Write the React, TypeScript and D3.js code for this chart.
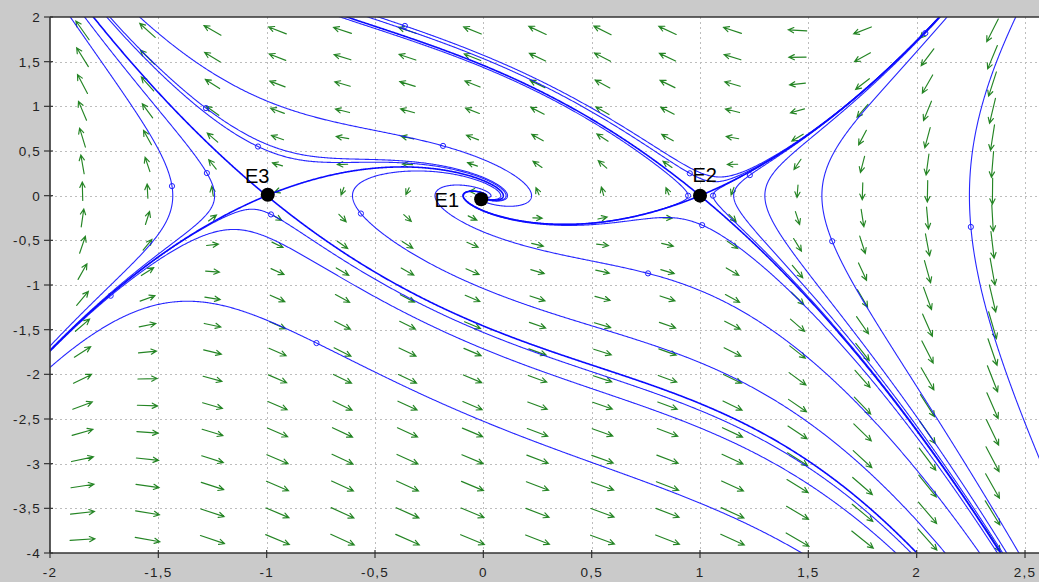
import React from "react";
import * as d3 from "d3";

// ---------- data ----------
const xTicks = [-2, -1.5, -1, -0.5, 0, 0.5, 1, 1.5, 2, 2.5];
const xTickLabels = ["-2", "-1,5", "-1", "-0,5", "0", "0,5", "1", "1,5", "2", "2,5"];
const yTicks = [2, 1.5, 1, 0.5, 0, -0.5, -1, -1.5, -2, -2.5, -3, -3.5, -4];
const yTickLabels = ["2", "1,5", "1", "0,5", "0", "-0,5", "-1", "-1,5", "-2", "-2,5", "-3", "-3,5", "-4"];

// system: x' = -y ; y' = x - x^3 + c*y
const dampingC = 1.0;

// direction-field sample grid
const arrowXs = [-1.85, -1.55, -1.25, -0.95, -0.65, -0.35, -0.05, 0.25, 0.55, 0.85, 1.15, 1.45, 1.75, 2.05, 2.35];
const arrowYs = [1.85, 1.55, 1.25, 0.95, 0.65, 0.35, 0.05, -0.25, -0.55, -0.85, -1.15, -1.45, -1.75, -2.05, -2.35, -2.65, -2.95, -3.25, -3.55, -3.85];

// trajectory initial points (small circles)
const seedXs = [-1.437, -1.276, -1.28, -1.04, -0.186, -0.362, -1.72, -0.98, -0.565, -0.77, 0.953, 0.945, 1.06, 1.23, 1.01, 0.76, 1.61, 2.25, 2.04];
const seedYs = [0.107, 0.253, 0.98, 0.55, 0.557, 1.9, -1.12, -0.21, -0.2, -1.65, 0.25, 0.0, 0.0, 0.23, -0.33, -0.87, -0.51, -0.35, 1.82];

// equilibria (marker positions as drawn) and saddle points
const eqNames = ["E1", "E2", "E3"];
const eqXs = [-0.01, 1.0, -0.995];
const eqYs = [-0.04, 0.0, 0.01];
const eqLabelXs = [-0.225, 0.965, -1.1];
const eqLabelYs = [-0.128, 0.152, 0.141];
const saddleXs = [1, -1];
const saddleYs = [0, 0];

// ---------- layout ----------
const W = 1039, H = 582;
const L = 50, T = 17, B = 553;
const xS = d3.scaleLinear().domain([-2, 2.5]).range([L, L + 4.5 * 216.67]);
const yS = d3.scaleLinear().domain([2, -4]).range([T, B]);
const kx = 216.67, ky = (B - T) / 6;

function field(x: number, y: number): [number, number] {
  return [-y, x - x * x * x + dampingC * y];
}

function rk4(x: number, y: number, h: number): [number, number] {
  const [a1, b1] = field(x, y);
  const [a2, b2] = field(x + (h / 2) * a1, y + (h / 2) * b1);
  const [a3, b3] = field(x + (h / 2) * a2, y + (h / 2) * b2);
  const [a4, b4] = field(x + h * a3, y + h * b3);
  return [x + (h / 6) * (a1 + 2 * a2 + 2 * a3 + a4), y + (h / 6) * (b1 + 2 * b2 + 2 * b3 + b4)];
}

function integrate(x0: number, y0: number, dir: number): [number, number][] {
  const pts: [number, number][] = [[x0, y0]];
  let x = x0, y = y0;
  for (let i = 0; i < 60000; i++) {
    const [vx, vy] = field(x, y);
    const s = Math.hypot(kx * vx, ky * vy);
    if (s < 1e-7) break;
    const h = Math.min(0.02, 1.0 / s) * dir;
    [x, y] = rk4(x, y, h);
    pts.push([x, y]);
    if (x < -2.3 || x > 2.9 || y < -4.6 || y > 2.6) break;
    if (Math.hypot(x, y) < 0.0015) break;
  }
  return pts;
}

// saddle eigen-directions from the Jacobian [[0,-1],[1-3x^2, c]]
function saddleBranches(sx: number, sy: number) {
  const a = 1 - 3 * sx * sx;
  const tr = dampingC, det = a; // det = 0*c - (-1)(a) = a
  const disc = Math.sqrt(tr * tr - 4 * det);
  const lu = (tr + disc) / 2, ls = (tr - disc) / 2;
  const vu: [number, number] = [1, -lu];
  const vs: [number, number] = [1, -ls];
  const eps = 1e-6;
  const out: [number, number][][] = [];
  for (const sg of [1, -1]) {
    const nu = Math.hypot(vu[0], vu[1]);
    out.push([[sx, sy] as [number, number]].concat(integrate(sx + (sg * eps * vu[0]) / nu, sy + (sg * eps * vu[1]) / nu, 1)));
    const ns = Math.hypot(vs[0], vs[1]);
    out.push([[sx, sy] as [number, number]].concat(integrate(sx + (sg * eps * vs[0]) / ns, sy + (sg * eps * vs[1]) / ns, -1)));
  }
  return out;
}

const line = d3
  .line<[number, number]>()
  .x((d) => xS(d[0]))
  .y((d) => yS(d[1]));

export default function App() {
  const trajectories = seedXs.map((sx, i) => {
    const fwd = integrate(sx, seedYs[i], 1);
    const bwd = integrate(sx, seedYs[i], -1).reverse();
    return bwd.concat(fwd.slice(1));
  });
  const separatrices = saddleXs.flatMap((sx, i) => saddleBranches(sx, saddleYs[i]));

  const arrows: { x1: number; y1: number; x2: number; y2: number; ang: number }[] = [];
  arrowXs.forEach((ax) =>
    arrowYs.forEach((ay) => {
      const [vx, vy] = field(ax, ay);
      const sx = kx * vx, sy = -ky * vy;
      const s = Math.hypot(sx, sy);
      if (s < 1e-9) return;
      const len = Math.min(28, 4 + 0.72 * Math.sqrt(s));
      const ux = sx / s, uy = sy / s;
      const cx = xS(ax), cy = yS(ay);
      arrows.push({
        x1: cx - (ux * len) / 2,
        y1: cy - (uy * len) / 2,
        x2: cx + (ux * len) / 2,
        y2: cy + (uy * len) / 2,
        ang: Math.atan2(uy, ux),
      });
    })
  );

  const gridXs = xTicks.filter((v) => v > -2);
  const gridYs = yTicks.filter((v) => v < 2 && v > -4);
  const font = "'Liberation Sans', Arial, sans-serif";

  return (
    <svg width={W} height={H} style={{ position: "absolute", left: 0, top: 0 }} xmlns="http://www.w3.org/2000/svg">
      <defs>
        <clipPath id="plotClip">
          <rect x={L} y={T} width={W - L} height={B - T} />
        </clipPath>
      </defs>
      <rect x={0} y={0} width={W} height={H} fill="#cacaca" />
      <rect x={L} y={T} width={W - L} height={B - T} fill="#ffffff" />
      {/* grid */}
      <g stroke="#bdbdbd" strokeWidth={1} strokeDasharray="2,3">
        {gridXs.map((v) => (
          <line key={"gx" + v} x1={Math.round(xS(v)) + 0.5} x2={Math.round(xS(v)) + 0.5} y1={T} y2={B} />
        ))}
        {gridYs.map((v) => (
          <line key={"gy" + v} x1={L} x2={W} y1={Math.round(yS(v)) + 0.5} y2={Math.round(yS(v)) + 0.5} />
        ))}
      </g>
      <g clipPath="url(#plotClip)">
        {/* direction field */}
        <g stroke="#0d780d" strokeWidth={1.15} fill="none" strokeLinecap="round" opacity={0.9}>
          {arrows.map((a, i) => {
            const hl = 6, ha = 0.45;
            const p1x = a.x2 - hl * Math.cos(a.ang - ha), p1y = a.y2 - hl * Math.sin(a.ang - ha);
            const p2x = a.x2 - hl * Math.cos(a.ang + ha), p2y = a.y2 - hl * Math.sin(a.ang + ha);
            return (
              <path
                key={"a" + i}
                d={`M${a.x1},${a.y1}L${a.x2},${a.y2}M${p1x},${p1y}L${a.x2},${a.y2}L${p2x},${p2y}`}
              />
            );
          })}
        </g>
        {/* trajectories */}
        <g stroke="#1010ff" strokeWidth={1.1} fill="none" opacity={0.9}>
          {trajectories.map((t, i) => (
            <path key={"t" + i} d={line(t) || ""} />
          ))}
        </g>
        <g stroke="#0a0aff" strokeWidth={1.6} fill="none">
          {separatrices.map((t, i) => (
            <path key={"sp" + i} d={line(t) || ""} />
          ))}
        </g>
        <g stroke="#2020ff" strokeWidth={1} fill="none">
          {seedXs.map((sx, i) => (
            <circle key={"s" + i} cx={xS(sx)} cy={yS(seedYs[i])} r={2.6} />
          ))}
        </g>
        {/* equilibria */}
        {eqNames.map((n, i) => (
          <g key={n}>
            <circle cx={xS(eqXs[i])} cy={yS(eqYs[i])} r={7} fill="#000" />
            <text x={xS(eqLabelXs[i])} y={yS(eqLabelYs[i])} fontFamily={font} fontSize={20} fill="#000">
              {n}
            </text>
          </g>
        ))}
      </g>
      {/* frame */}
      <g stroke="#333" strokeWidth={1.6} fill="none">
        <line x1={L} x2={W} y1={T} y2={T} />
        <line x1={L} x2={W} y1={B} y2={B} />
        <line x1={L} x2={L} y1={T} y2={B} />
      </g>
      {/* ticks */}
      <g stroke="#333" strokeWidth={1.2}>
        {xTicks.map((v) => (
          <line key={"xt" + v} x1={xS(v)} x2={xS(v)} y1={B - 3} y2={B + 5} />
        ))}
        {yTicks.map((v) => (
          <line key={"yt" + v} x1={L - 6} x2={L + 3} y1={yS(v)} y2={yS(v)} />
        ))}
      </g>
      <g fontFamily={font} fontSize={13.5} fill="#222" letterSpacing={1.2}>
        {xTicks.map((v, i) => (
          <text key={"xl" + v} x={xS(v)} y={577} textAnchor="middle">
            {xTickLabels[i]}
          </text>
        ))}
        {yTicks.map((v, i) => (
          <text key={"yl" + v} x={41} y={yS(v) + 5} textAnchor="end">
            {yTickLabels[i]}
          </text>
        ))}
      </g>
    </svg>
  );
}
